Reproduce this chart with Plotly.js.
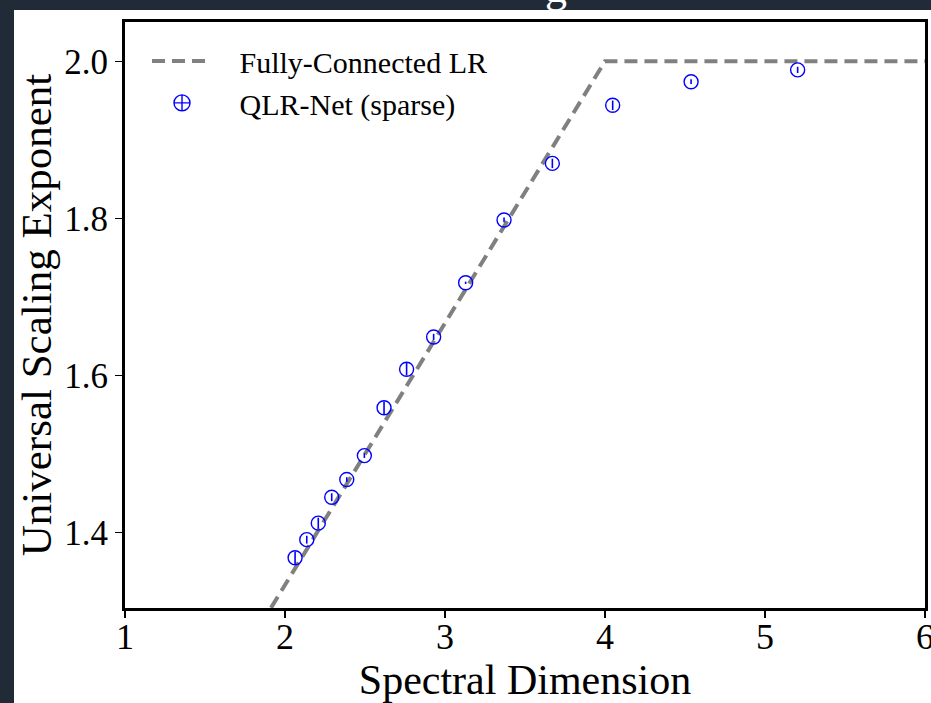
<!DOCTYPE html>
<html>
<head>
<meta charset="utf-8">
<script src="https://cdn.plot.ly/plotly-3.0.1.min.js"></script>
<style>
  html, body { margin: 0; padding: 0; background: #212a37; overflow: hidden; }
  #sheet { position: absolute; left: 14px; top: 10px; width: 917px; height: 693px; background: #ffffff; }
  #chart { position: absolute; left: 0; top: 0; width: 931px; height: 703px; }
</style>
</head>
<body>
<div id="sheet"></div>
<div id="chart"></div>
<script>
// Fully-connected long-range reference line
const lrX = [1, 4, 6];
const lrY = [1.0, 2.0, 2.0];

// QLR-Net (sparse) measurements
const spectralDim = [2.063, 2.136, 2.208, 2.292, 2.386, 2.496, 2.619, 2.760, 2.929, 3.129, 3.369, 3.671, 4.048, 4.538, 5.204];
const scalingExp  = [1.368, 1.391, 1.412, 1.445, 1.4675, 1.498, 1.559, 1.608, 1.649, 1.718, 1.798, 1.870, 1.944, 1.974, 1.989];
const scalingErr  = [0.008, 0.005, 0.007, 0.005, 0.003, 0.003, 0.008, 0.008, 0.004, 0.0015, 0.003, 0.006, 0.006, 0.003, 0.004];

const xTicks = [1, 2, 3, 4, 5, 6];
const yTicks = [1.4, 1.6, 1.8, 2.0];
const yTickLabels = ['1.4', '1.6', '1.8', '2.0'];

const serif = 'Liberation Serif, DejaVu Serif, serif';
const pad = '\u00A0\u00A0\u00A0';

const traces = [
  {
    x: lrX, y: lrY, type: 'scatter', mode: 'lines',
    name: pad + 'Fully-Connected LR',
    line: { color: '#808080', width: 4, dash: '13px,7px' },
    hoverinfo: 'skip'
  },
  {
    x: spectralDim, y: scalingExp, type: 'scatter', mode: 'markers',
    name: 'QLR-Net (sparse)', showlegend: false,
    marker: { symbol: 'circle-open', size: 14, color: '#0000ff', line: { width: 1.4, color: '#0000ff' } },
    error_y: { type: 'data', array: scalingErr, visible: true, color: '#0000ff', thickness: 1.6, width: 0 }
  },
  {
    x: [null], y: [null], type: 'scatter', mode: 'markers',
    name: pad + 'QLR-Net (sparse)',
    marker: { symbol: 'circle-cross-open', size: 16, color: '#0000ff', line: { width: 1.4, color: '#0000ff' } }
  }
];

const layout = {
  width: 931, height: 703,
  paper_bgcolor: 'rgba(0,0,0,0)',
  plot_bgcolor: '#ffffff',
  margin: { l: 125, r: 6, t: 22, b: 95 },
  showlegend: true,
  legend: {
    x: 0.0275, y: 0.978, xanchor: 'left', yanchor: 'top',
    bgcolor: 'rgba(255,255,255,0)', borderwidth: 0,
    itemwidth: 60,
    font: { family: serif, size: 30, color: '#000' }
  },
  annotations: [
    { text: 'g', xref: 'paper', yref: 'paper', x: 0.539, y: 1.014, xanchor: 'center', yanchor: 'bottom',
      showarrow: false, font: { family: serif, size: 44, color: '#ffffff' } }
  ],
  xaxis: {
    range: [1, 6], tickvals: xTicks, ticktext: xTicks.map(String),
    showgrid: false, zeroline: false, automargin: false,
    showline: true, linecolor: '#000', linewidth: 3, mirror: true,
    ticks: 'outside', ticklen: 7, tickwidth: 1.5, tickcolor: '#000',
    ticklabeloverflow: 'allow', ticklabelstandoff: -12,
    tickfont: { family: serif, size: 36, color: '#000' },
    title: { text: 'Spectral Dimension', font: { family: serif, size: 42, color: '#000' }, standoff: 0 }
  },
  yaxis: {
    range: [1.304, 2.05], tickvals: yTicks, ticktext: yTickLabels,
    showgrid: false, zeroline: false, automargin: false,
    showline: true, linecolor: '#000', linewidth: 3, mirror: true,
    ticks: 'outside', ticklen: 7, tickwidth: 1.5, tickcolor: '#000',
    tickfont: { family: serif, size: 35, color: '#000' },
    title: { text: 'Universal Scaling Exponent', font: { family: serif, size: 43, color: '#000' }, standoff: 0 }
  }
};

Plotly.newPlot('chart', traces, layout, { displayModeBar: false, staticPlot: true });
</script>
</body>
</html>
